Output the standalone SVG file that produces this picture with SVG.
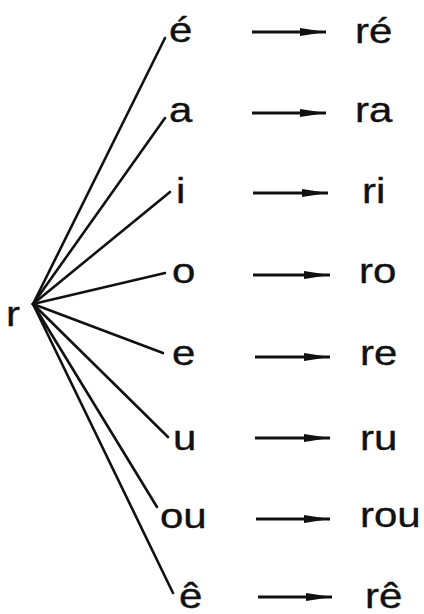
<svg xmlns="http://www.w3.org/2000/svg" width="424" height="614" viewBox="0 0 424 614">
<style>
text{font-family:"Liberation Sans",Arial,sans-serif;font-size:35px;fill:#111;stroke:#111;stroke-width:0.35}
.br line{stroke:#111;stroke-width:2.6;stroke-linecap:round}
.ar path{stroke:#111;stroke-width:3;fill:none}
</style>
<defs>
<marker id="ah" markerUnits="userSpaceOnUse" markerWidth="28" markerHeight="12" refX="26" refY="6" orient="auto">
<path d="M0,2 L26,6 L0,10 Z" fill="#111"/>
</marker>
</defs>
<rect width="424" height="614" fill="#fff"/>
<g id="root"><text transform="translate(6,326) scale(1.2,1)">r</text></g>
<g class="br" id="connectors">
<line x1="33" y1="304" x2="165" y2="38"/>
<line x1="33" y1="304" x2="165" y2="118"/>
<line x1="33" y1="304" x2="170" y2="192"/>
<line x1="33" y1="304" x2="165" y2="273"/>
<line x1="33" y1="304" x2="163" y2="353"/>
<line x1="33" y1="304" x2="168" y2="437"/>
<line x1="33" y1="304" x2="157" y2="507"/>
<line x1="33" y1="304" x2="173" y2="593"/>
</g>
<g class="ar" id="arrows">
<path d="M252,32 H326" marker-end="url(#ah)"/>
<path d="M252,113 H326" marker-end="url(#ah)"/>
<path d="M253,193 H328" marker-end="url(#ah)"/>
<path d="M253,275 H330" marker-end="url(#ah)"/>
<path d="M255,357 H330" marker-end="url(#ah)"/>
<path d="M255,438 H330" marker-end="url(#ah)"/>
<path d="M256,519 H330" marker-end="url(#ah)"/>
<path d="M258,597 H332" marker-end="url(#ah)"/>
</g>
<g id="n-e-acute"><text transform="translate(169,42) scale(1.2,1)">é</text></g>
<g id="n-a"><text transform="translate(169,122) scale(1.2,1)">a</text></g>
<g id="n-i"><text transform="translate(176,203) scale(1.2,1)">i</text></g>
<g id="n-o"><text transform="translate(172,283) scale(1.2,1)">o</text></g>
<g id="n-e"><text transform="translate(172,365) scale(1.2,1)">e</text></g>
<g id="n-u"><text transform="translate(173,450) scale(1.2,1)">u</text></g>
<g id="n-ou"><text transform="translate(160,528) scale(1.2,1)">ou</text></g>
<g id="n-e-circ"><text transform="translate(179,608) scale(1.2,1)">ê</text></g>
<g id="r-re-acute"><text transform="translate(355,43) scale(1.2,1)">ré</text></g>
<g id="r-ra"><text transform="translate(355,122) scale(1.2,1)">ra</text></g>
<g id="r-ri"><text transform="translate(362,203) scale(1.2,1)">ri</text></g>
<g id="r-ro"><text transform="translate(359,283) scale(1.2,1)">ro</text></g>
<g id="r-re"><text transform="translate(360,365) scale(1.2,1)">re</text></g>
<g id="r-ru"><text transform="translate(360,450) scale(1.2,1)">ru</text></g>
<g id="r-rou"><text transform="translate(360,527) scale(1.2,1)">rou</text></g>
<g id="r-re-circ"><text transform="translate(365,608) scale(1.2,1)">rê</text></g>
</svg>
